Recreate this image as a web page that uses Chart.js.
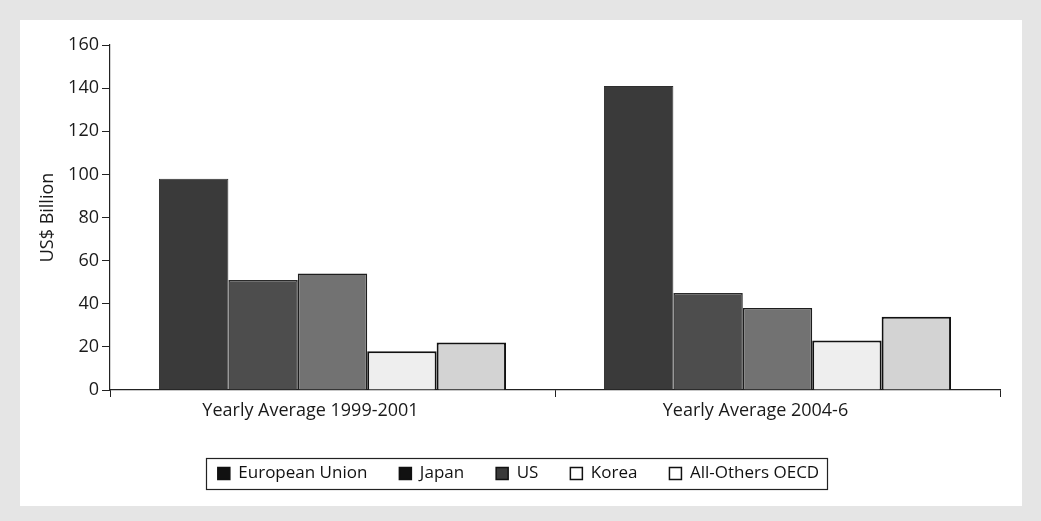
<!DOCTYPE html>
<html>
<head>
<meta charset="utf-8">
<script src="https://cdn.jsdelivr.net/npm/chart.js@4/dist/chart.umd.min.js"></script>
<style>
  html, body { margin: 0; padding: 0; }
  body { width: 1041px; height: 521px; background: #e5e5e5; position: relative; overflow: hidden; }
  #panel { position: absolute; left: 20px; top: 20px; width: 1002px; height: 486px; background: #ffffff; }
  canvas { display: block; }
</style>
</head>
<body>
<div id="panel"><canvas id="chart" width="1002" height="486"></canvas></div>
<script>
// Investment by source, US$ billion
const periods = ['Yearly Average 1999-2001', 'Yearly Average 2004-6'];
const seriesNames = ['European Union', 'Japan', 'US', 'Korea', 'All-Others OECD'];
const europeanUnion = [98, 141];
const japan = [51, 45];
const us = [54, 38];
const korea = [18, 23];
const allOthersOecd = [22, 34];
const yTicks = [0, 20, 40, 60, 80, 100, 120, 140, 160];

const values = [europeanUnion, japan, us, korea, allOthersOecd];
const fills = ['#3a3a3a', '#4d4d4d', '#727272', '#eeeeee', '#d3d3d3'];
const strokes = ['#2e2e2e', '#2a2a2a', '#1e1e1e', '#111111', '#111111'];
const strokeWidths = [1, 1.5, 1.5, 2, 2];
const legendFills = ['#111111', '#111111', '#3a3a3a', '#ffffff', '#ffffff'];

const FONT = '"Open Sans", "Liberation Sans", sans-serif';

// Draws the frame around the legend items
const legendFrame = {
  id: 'legendFrame',
  afterDraw(chart) {
    const lg = chart.legend;
    if (!lg || !lg.legendHitBoxes || !lg.legendHitBoxes.length) return;
    const boxes = lg.legendHitBoxes;
    const left = Math.min(...boxes.map(b => b.left)) - 12;
    const right = Math.max(...boxes.map(b => b.left + b.width)) + 8;
    const top = Math.min(...boxes.map(b => b.top)) - 7;
    const bottom = Math.max(...boxes.map(b => b.top + b.height)) + 7;
    const ctx = chart.ctx;
    ctx.save();
    ctx.strokeStyle = '#222';
    ctx.lineWidth = 1.2;
    ctx.strokeRect(Math.round(left) + 0.5, Math.round(top) + 0.5, Math.round(right - left), Math.round(bottom - top));
    ctx.restore();
  }
};

new Chart(document.getElementById('chart'), {
  type: 'bar',
  data: {
    labels: periods,
    datasets: seriesNames.map((name, i) => ({
      label: name,
      data: values[i],
      backgroundColor: fills[i],
      borderColor: strokes[i],
      borderWidth: strokeWidths[i],
      barPercentage: 1.0,
      categoryPercentage: 0.78
    }))
  },
  options: {
    responsive: false,
    animation: false,
    devicePixelRatio: 1,
    layout: { padding: { left: 17, right: 22, top: 25, bottom: 14 } },
    plugins: {
      tooltip: { enabled: false },
      legend: {
        position: 'bottom',
        labels: {
          color: '#111',
          font: { family: FONT, size: 17 },
          boxWidth: 12,
          boxHeight: 12,
          padding: 32,
          generateLabels(chart) {
            return chart.data.datasets.map((ds, i) => ({
              text: ds.label,
              fillStyle: legendFills[i],
              strokeStyle: '#111',
              lineWidth: 1.5,
              hidden: false,
              datasetIndex: i,
              fontColor: '#111'
            }));
          }
        }
      }
    },
    scales: {
      x: {
        afterFit(scale) { scale.height = 43; },
        grid: { display: true, drawOnChartArea: false, drawTicks: true, tickLength: 7, color: '#222', offset: true },
        border: { display: true, color: '#222', width: 1.2 },
        ticks: { color: '#1a1a1a', font: { family: FONT, size: 18 }, padding: 3, labelOffset: -22 }
      },
      y: {
        min: 0,
        max: 160,
        afterFit(scale) { scale.width = 73; },
        afterBuildTicks(scale) { scale.ticks = yTicks.map(v => ({ value: v })); },
        grid: { display: true, drawOnChartArea: false, drawTicks: true, tickLength: 8, color: '#222' },
        border: { display: true, color: '#222', width: 1.2 },
        ticks: { color: '#1a1a1a', font: { family: FONT, size: 18 }, padding: 3 },
        title: { display: true, text: 'US$ Billion', color: '#1a1a1a', font: { family: FONT, size: 18 }, padding: { top: 0, bottom: 4 } }
      }
    }
  },
  plugins: [legendFrame]
});
</script>
</body>
</html>
